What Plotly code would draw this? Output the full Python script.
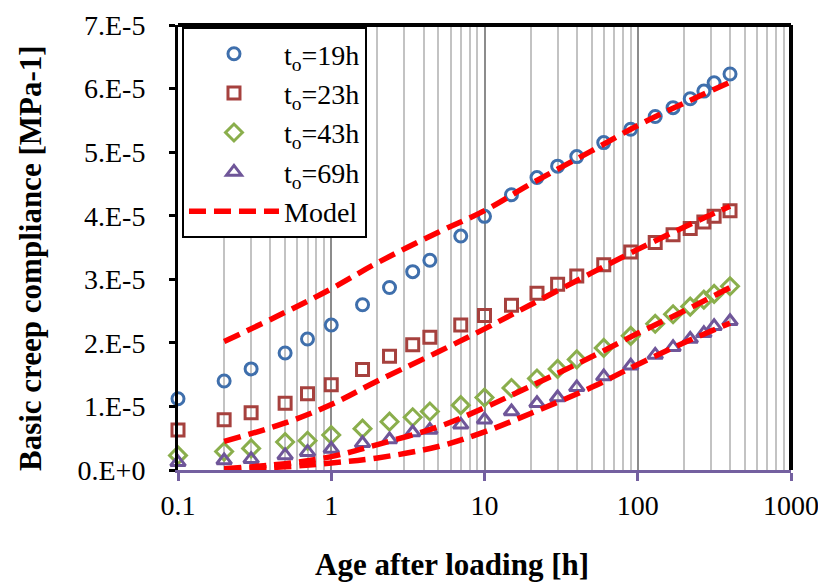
import plotly.graph_objects as go

# ---------------- data ----------------
t_obs = [0.1, 0.2, 0.3, 0.5, 0.7, 1, 1.6, 2.4, 3.4, 4.4, 7, 10, 15, 22, 30, 40,
         60, 90, 130, 170, 220, 270, 315, 400]
J19 = [1.12, 1.40, 1.59, 1.84, 2.06, 2.28, 2.60, 2.87, 3.12, 3.30, 3.68, 3.99,
       4.33, 4.60, 4.78, 4.93, 5.15, 5.36, 5.56, 5.70, 5.84, 5.96, 6.09, 6.23]
J23 = [0.63, 0.79, 0.90, 1.05, 1.20, 1.34, 1.58, 1.79, 1.97, 2.09, 2.28, 2.43,
       2.59, 2.78, 2.92, 3.05, 3.23, 3.43, 3.58, 3.70, 3.80, 3.90, 3.99, 4.08]
J43 = [0.23, 0.29, 0.34, 0.44, 0.46, 0.55, 0.65, 0.76, 0.83, 0.92, 1.02, 1.14,
       1.29, 1.44, 1.59, 1.74, 1.92, 2.11, 2.30, 2.45, 2.57, 2.68, 2.77, 2.89]
J69 = [0.12, 0.15, 0.17, 0.23, 0.28, 0.33, 0.42, 0.48, 0.59, 0.63, 0.71, 0.79,
       0.92, 1.05, 1.14, 1.30, 1.47, 1.64, 1.81, 1.93, 2.06, 2.15, 2.26, 2.34]

t_model = [0.2, 0.5, 1, 2, 5, 10, 20, 50, 100, 200, 400]
M19 = [2.02, 2.48, 2.85, 3.26, 3.74, 4.08, 4.50, 5.02, 5.42, 5.77, 6.10]
M23 = [0.45, 0.74, 1.03, 1.40, 1.86, 2.22, 2.60, 3.10, 3.47, 3.82, 4.15]
M43 = [0.02, 0.10, 0.21, 0.40, 0.68, 0.98, 1.32, 1.78, 2.15, 2.50, 2.87]
M69 = [0.015, 0.05, 0.11, 0.19, 0.37, 0.60, 0.89, 1.30, 1.66, 2.00, 2.31]
SCALE = 1e-5

series_names = ["t<sub>o</sub>=19h", "t<sub>o</sub>=23h", "t<sub>o</sub>=43h", "t<sub>o</sub>=69h"]
model_name = "Model"
x_tickvals = [0.1, 1, 10, 100, 1000]
x_ticktext = ["0.1", "1", "10", "100", "1000"]
y_tickvals = [0, 1e-5, 2e-5, 3e-5, 4e-5, 5e-5, 6e-5, 7e-5]
y_ticktext = ["0.E+0", "1.E-5", "2.E-5", "3.E-5", "4.E-5", "5.E-5", "6.E-5", "7.E-5"]

# ---------------- styles ----------------
FONT = "Liberation Serif, Times New Roman, serif"
colors = ["#3f6fac", "#a6413e", "#8aae4c", "#6f5699"]
symbols = ["circle-open", "square-open", "diamond-open", "triangle-up-open"]
sizes = [12, 12, 13, 13]
data = [J19, J23, J43, J69]
models = [M19, M23, M43, M69]

fig = go.Figure()
for name, ys, c, s, sz in zip(series_names, data, colors, symbols, sizes):
    fig.add_trace(go.Scatter(
        x=t_obs, y=[v * SCALE for v in ys], mode="markers", name=name,
        marker=dict(symbol=s, size=sz, color=c, line=dict(width=3, color=c)),
        cliponaxis=False,
    ))
for i, ms in enumerate(models):
    fig.add_trace(go.Scatter(
        x=t_model, y=[v * SCALE for v in ms], mode="lines", name=model_name,
        line=dict(color="#ff0000", width=5.5, dash="17px,8px", shape="spline"),
        legendgroup="model", showlegend=(i == 0), cliponaxis=False,
    ))

# page body has an 8px default margin -> figure is 8px smaller and shifted
fig.update_layout(
    width=818, height=574,
    margin=dict(l=170, r=35, t=17, b=112, autoexpand=False),
    plot_bgcolor="white", paper_bgcolor="white",
    font=dict(family=FONT, size=28, color="black"),
    showlegend=True,
    legend=dict(
        x=0.0065, y=0.9955, xanchor="left", yanchor="top",
        bgcolor="white", bordercolor="black", borderwidth=2,
        font=dict(family=FONT, size=28, color="black"),
        itemwidth=90, tracegroupgap=0,
    ),
    xaxis=dict(
        type="log", range=[-1, 3], automargin=False,
        tickvals=x_tickvals, ticktext=x_ticktext,
        showline=True, linecolor="#7460a0", linewidth=3,
        ticks="outside", ticklen=8, tickwidth=2.5, tickcolor="#7460a0",
        showgrid=True, gridcolor="#8c8c8c", gridwidth=2,
        minor=dict(dtick="D1", showgrid=True, gridcolor="#c3c3c3", gridwidth=2, ticks=""),
        zeroline=False, tickfont=dict(size=28),
    ),
    yaxis=dict(
        range=[0, 7e-5], automargin=False,
        tickvals=y_tickvals, ticktext=y_ticktext,
        showline=True, linecolor="black", linewidth=3,
        ticks="outside", ticklen=6, tickwidth=2.5, tickcolor="black",
        showgrid=False, zeroline=False, tickfont=dict(size=28),
        ticklabelstandoff=18,
    ),
    shapes=[
        dict(type="line", xref="paper", yref="paper", x0=0, x1=1, y0=1, y1=1,
             line=dict(color="black", width=4), layer="above"),
        dict(type="line", xref="paper", yref="paper", x0=1, x1=1, y0=0, y1=1,
             line=dict(color="black", width=4), layer="above"),
    ],
    annotations=[
        dict(text="<b>Age after loading [h]</b>", xref="paper", yref="paper",
             x=(452 - 178) / 613, y=(470 - 564) / 445, xanchor="center", yanchor="middle",
             showarrow=False, font=dict(family=FONT, size=31, color="black")),
        dict(text="<b>Basic creep compliance [MPa-1]</b>", xref="paper", yref="paper",
             x=(30 - 178) / 613, y=(470 - 258) / 445, xanchor="center", yanchor="middle",
             textangle=-90, showarrow=False, font=dict(family=FONT, size=31, color="black")),
    ],
)

fig.write_html("out.html")
